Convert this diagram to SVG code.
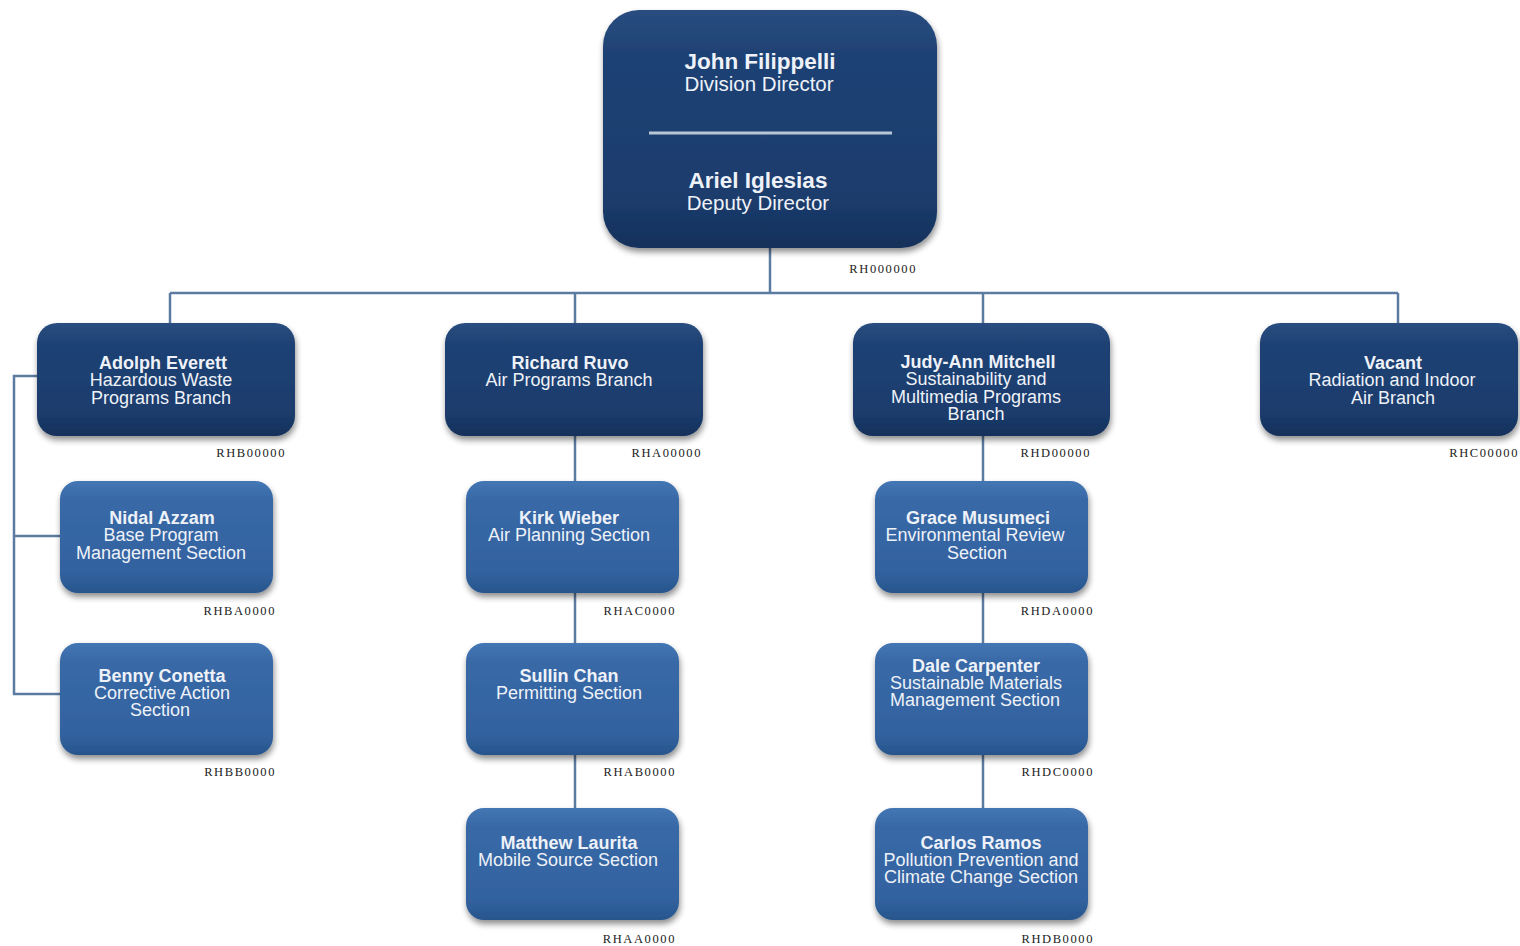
<svg xmlns="http://www.w3.org/2000/svg" width="1520" height="946" viewBox="0 0 1520 946">
<style>
.t{font-family:"Liberation Sans",Arial,sans-serif;fill:#eef2f8;text-anchor:middle;font-size:18px}
.n{font-weight:bold}
.big{font-size:22.5px}
.mid{font-size:20.5px}
.code{font-family:"Liberation Serif","Times New Roman",serif;font-size:12.5px;letter-spacing:1.6px;fill:#222;text-anchor:end}
.c{fill:none;stroke:#5b7ba0;stroke-width:2.5}
</style>
<defs>
<linearGradient id="gd" x1="0" y1="0" x2="0" y2="1">
<stop offset="0" stop-color="#2a4d80"/>
<stop offset="0.18" stop-color="#1f4274"/>
<stop offset="0.8" stop-color="#1b3c6c"/>
<stop offset="1" stop-color="#14305a"/>
</linearGradient>
<linearGradient id="gl" x1="0" y1="0" x2="0" y2="1">
<stop offset="0" stop-color="#4476b4"/>
<stop offset="0.18" stop-color="#3868a6"/>
<stop offset="0.8" stop-color="#3363a0"/>
<stop offset="1" stop-color="#28558c"/>
</linearGradient>
<filter id="sh" x="-10%" y="-10%" width="125%" height="130%">
<feGaussianBlur in="SourceAlpha" stdDeviation="3"/>
<feOffset dx="1" dy="4" result="b"/>
<feComponentTransfer><feFuncA type="linear" slope="0.45"/></feComponentTransfer>
<feMerge><feMergeNode/><feMergeNode in="SourceGraphic"/></feMerge>
</filter>
</defs>
<rect width="1520" height="946" fill="#ffffff"/>

<g id="connectors">
<path class="c" d="M770 248V293M170 293H1398M170 293V323M575 293V323M983 293V323M1398 293V323"/>
<path class="c" d="M37 376H14V694H60M14 536H60"/>
<path class="c" d="M575 436V808"/>
<path class="c" d="M983 436V808"/>
</g>

<g id="director">
<rect x="603" y="10" width="334" height="238" rx="36" fill="url(#gd)" filter="url(#sh)"/>
<line x1="649" y1="133" x2="892" y2="133" stroke="#b9c6d8" stroke-width="3"/>
<text class="t n big" x="760" y="69">John Filippelli</text>
<text class="t mid" x="759" y="91">Division Director</text>
<text class="t n big" x="758" y="188">Ariel Iglesias</text>
<text class="t mid" x="758" y="210">Deputy Director</text>
<text class="code" x="917" y="273">RH000000</text>
</g>

<g id="adolph">
<rect x="37" y="323" width="258" height="113" rx="20" fill="url(#gd)" filter="url(#sh)"/>
<text class="t n" x="163" y="369">Adolph Everett</text>
<text class="t" x="161" y="386">Hazardous Waste</text>
<text class="t" x="161" y="404">Programs Branch</text>
<text class="code" x="286" y="457">RHB00000</text>
</g>

<g id="richard">
<rect x="445" y="323" width="258" height="113" rx="20" fill="url(#gd)" filter="url(#sh)"/>
<text class="t n" x="570" y="369">Richard Ruvo</text>
<text class="t" x="569" y="386">Air Programs Branch</text>
<text class="code" x="702" y="457">RHA00000</text>
</g>

<g id="judy">
<rect x="853" y="323" width="257" height="113" rx="20" fill="url(#gd)" filter="url(#sh)"/>
<text class="t n" x="978" y="368">Judy-Ann Mitchell</text>
<text class="t" x="976" y="385">Sustainability and</text>
<text class="t" x="976" y="403">Multimedia Programs</text>
<text class="t" x="976" y="420">Branch</text>
<text class="code" x="1091" y="457">RHD00000</text>
</g>

<g id="vacant">
<rect x="1260" y="323" width="258" height="113" rx="20" fill="url(#gd)" filter="url(#sh)"/>
<text class="t n" x="1393" y="369">Vacant</text>
<text class="t" x="1392" y="386">Radiation and Indoor</text>
<text class="t" x="1393" y="404">Air Branch</text>
<text class="code" x="1519" y="457">RHC00000</text>
</g>

<g id="nidal">
<rect x="60" y="481" width="213" height="112" rx="18" fill="url(#gl)" filter="url(#sh)"/>
<text class="t n" x="162" y="524">Nidal Azzam</text>
<text class="t" x="161" y="541">Base Program</text>
<text class="t" x="161" y="559">Management Section</text>
<text class="code" x="276" y="615">RHBA0000</text>
</g>

<g id="benny">
<rect x="60" y="643" width="213" height="112" rx="18" fill="url(#gl)" filter="url(#sh)"/>
<text class="t n" x="162" y="682">Benny Conetta</text>
<text class="t" x="162" y="699">Corrective Action</text>
<text class="t" x="160" y="716">Section</text>
<text class="code" x="276" y="776">RHBB0000</text>
</g>

<g id="kirk">
<rect x="466" y="481" width="213" height="112" rx="18" fill="url(#gl)" filter="url(#sh)"/>
<text class="t n" x="569" y="524">Kirk Wieber</text>
<text class="t" x="569" y="541">Air Planning Section</text>
<text class="code" x="676" y="615">RHAC0000</text>
</g>

<g id="sullin">
<rect x="466" y="643" width="213" height="112" rx="18" fill="url(#gl)" filter="url(#sh)"/>
<text class="t n" x="569" y="682">Sullin Chan</text>
<text class="t" x="569" y="699">Permitting Section</text>
<text class="code" x="676" y="776">RHAB0000</text>
</g>

<g id="matthew">
<rect x="466" y="808" width="213" height="112" rx="18" fill="url(#gl)" filter="url(#sh)"/>
<text class="t n" x="569" y="849">Matthew Laurita</text>
<text class="t" x="568" y="866">Mobile Source Section</text>
<text class="code" x="676" y="943">RHAA0000</text>
</g>

<g id="grace">
<rect x="875" y="481" width="213" height="112" rx="18" fill="url(#gl)" filter="url(#sh)"/>
<text class="t n" x="978" y="524">Grace Musumeci</text>
<text class="t" x="975" y="541">Environmental Review</text>
<text class="t" x="977" y="559">Section</text>
<text class="code" x="1094" y="615">RHDA0000</text>
</g>

<g id="dale">
<rect x="875" y="643" width="213" height="112" rx="18" fill="url(#gl)" filter="url(#sh)"/>
<text class="t n" x="976" y="672">Dale Carpenter</text>
<text class="t" x="976" y="689">Sustainable Materials</text>
<text class="t" x="975" y="706">Management Section</text>
<text class="code" x="1094" y="776">RHDC0000</text>
</g>

<g id="carlos">
<rect x="875" y="808" width="213" height="112" rx="18" fill="url(#gl)" filter="url(#sh)"/>
<text class="t n" x="981" y="849">Carlos Ramos</text>
<text class="t" x="981" y="866">Pollution Prevention and</text>
<text class="t" x="981" y="883">Climate Change Section</text>
<text class="code" x="1094" y="943">RHDB0000</text>
</g>
</svg>
